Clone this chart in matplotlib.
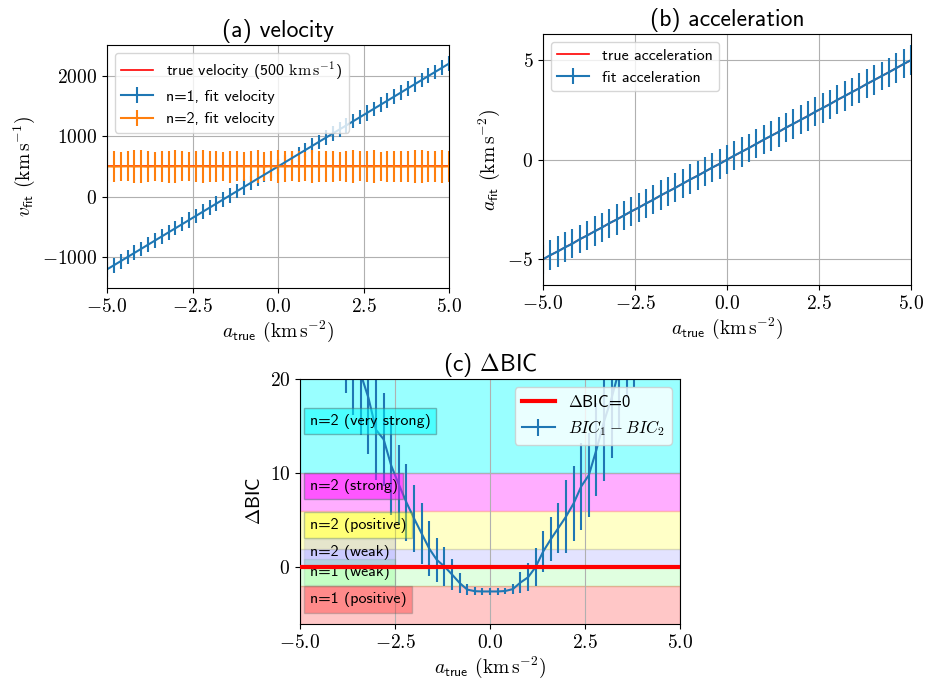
import numpy as np
import matplotlib
matplotlib.use("Agg")
import matplotlib.pyplot as plt
from matplotlib.ticker import FuncFormatter

plt.rcParams['font.family'] = ['cmss10', 'DejaVu Sans']
plt.rcParams['mathtext.fontset'] = 'cm'
plt.rcParams['axes.unicode_minus'] = False

# true accelerations (km s^-2)
a_true = [-5.0, -4.8, -4.6, -4.4, -4.2, -4.0, -3.8, -3.6, -3.4, -3.2, -3.0,
          -2.8, -2.6, -2.4, -2.2, -2.0, -1.8, -1.6, -1.4, -1.2, -1.0,
          -0.8, -0.6, -0.4, -0.2, 0.0, 0.2, 0.4, 0.6, 0.8, 1.0,
          1.2, 1.4, 1.6, 1.8, 2.0, 2.2, 2.4, 2.6, 2.8, 3.0,
          3.2, 3.4, 3.6, 3.8, 4.0, 4.2, 4.4, 4.6, 4.8, 5.0]

v_true = 500

# (a) velocity, n=1 and n=2 fits
v_fit1 = [-1200, -1132, -1064, -996, -928, -860, -792, -724, -656, -588, -520,
          -452, -384, -316, -248, -180, -112, -44, 24, 92, 160,
          228, 296, 364, 432, 500, 568, 636, 704, 772, 840,
          908, 976, 1044, 1112, 1180, 1248, 1316, 1384, 1452, 1520,
          1588, 1656, 1724, 1792, 1860, 1928, 1996, 2064, 2132, 2200]
v_err1 = [125, 120, 125, 120, 125, 120, 125, 120, 120, 125, 120,
          120, 125, 120, 125, 120, 120, 125, 120, 120, 125,
          120, 125, 120, 120, 125, 120, 120, 125, 120, 125,
          120, 120, 125, 120, 125, 120, 120, 125, 120, 125,
          120, 125, 120, 120, 125, 120, 125, 120, 120, 125]
v_fit2 = [502, 498, 500, 503, 499, 501, 497, 502, 500, 498, 501,
          503, 499, 500, 502, 497, 501, 500, 498, 502, 499,
          501, 500, 497, 503, 500, 499, 502, 498, 500, 501,
          499, 502, 500, 497, 501, 500, 503, 498, 500, 502,
          499, 501, 497, 500, 502, 499, 501, 500, 498, 502]
v_err2 = [250, 260, 245, 250, 270, 275, 255, 245, 250, 265, 270,
          250, 245, 260, 270, 255, 250, 245, 265, 250, 240,
          255, 270, 245, 250, 265, 255, 250, 260, 245, 270,
          250, 255, 260, 245, 250, 265, 250, 255, 275, 245,
          250, 260, 255, 250, 270, 265, 250, 255, 270, 260]

# (b) acceleration fit
a_fit = [-5.00, -4.79, -4.61, -4.40, -4.22, -3.99, -3.81, -3.60, -3.41, -3.19, -3.01,
         -2.80, -2.59, -2.41, -2.20, -2.01, -1.79, -1.60, -1.41, -1.20, -0.99,
         -0.81, -0.60, -0.39, -0.21, 0.00, 0.21, 0.40, 0.59, 0.80, 1.01,
         1.20, 1.39, 1.61, 1.80, 2.00, 2.19, 2.41, 2.60, 2.79, 3.01,
         3.20, 3.40, 3.59, 3.81, 4.00, 4.20, 4.39, 4.60, 4.81, 5.00]
a_err = [0.72, 0.75, 0.78, 0.76, 0.74, 0.72, 0.73, 0.75, 0.74, 0.72, 0.76,
         0.74, 0.73, 0.72, 0.75, 0.74, 0.76, 0.73, 0.72, 0.74, 0.75,
         0.73, 0.74, 0.72, 0.76, 0.74, 0.73, 0.75, 0.72, 0.74, 0.73,
         0.76, 0.74, 0.72, 0.75, 0.73, 0.74, 0.72, 0.75, 0.73, 0.74,
         0.76, 0.72, 0.74, 0.73, 0.75, 0.72, 0.74, 0.76, 0.73, 0.74]

# (c) delta BIC
dbic = [46, 42, 38.5, 35, 32, 29,
        26, 23, 20.5, 18, 14.6, 13.6, 10.8, 8.8, 6.9, 5.2, 3.6, 2.0, 0.8, 0.1,
        -0.75, -1.65, -2.35, -2.52, -2.55, -2.55, -2.55, -2.5, -2.3, -1.6, -1.05,
        0.05, 1.7, 3.0, 4.2, 5.4, 6.8, 8.6, 9.8, 12.5, 15.5, 18, 21, 24, 26,
        29, 32, 35, 38.5, 42, 46]
dbic_err = [9, 8.8, 8.5, 8.2, 8, 7.8,
            7.5, 6.8, 6.4, 6.0, 5.35, 4.95, 5.25, 4.15, 4.1, 3.6, 3.25, 2.95, 2.35, 2.05,
            1.65, 1.05, 0.6, 0.4, 0.4, 0.4, 0.4, 0.35, 0.55, 1.1, 1.5,
            2.0, 2.2, 2.3, 2.65, 3.85, 4.0, 4.65, 4.5, 4.95, 6.3, 6.4, 6.2, 6.0, 6.8,
            7, 7.5, 8, 8.3, 8.6, 9]

# evidence bands (low, high, colour, band alpha, label, label y, box alpha)
bandas = [
    (10, 30, 'cyan', 0.4, 'n=2 (very strong)', 15.5, 0.5),
    (6, 10, 'magenta', 0.32, 'n=2 (strong)', 8.6, 0.5),
    (2, 6, 'yellow', 0.22, 'n=2 (positive)', 4.5, 0.4),
    (0, 2, 'blue', 0.11, 'n=2 (weak)', 1.6, 0.1),
    (-2, 0, 'lime', 0.12, 'n=1 (weak)', -0.5, 0.12),
    (-10, -2, 'red', 0.22, 'n=1 (positive)', -3.4, 0.3),
]

xfmt = FuncFormatter(lambda v, p: '$%.1f$' % v)
yfmt = FuncFormatter(lambda v, p: '$%g$' % v)
xlabel = r'$a_{\mathsf{true}}$ $(\mathrm{km\,s^{-2}})$'

fig = plt.figure(figsize=(9.26, 6.8), dpi=100)
ax1 = fig.add_axes([0.1156, 0.5765, 0.3693, 0.3574])
ax2 = fig.add_axes([0.5864, 0.5809, 0.3974, 0.3691])
ax3 = fig.add_axes([0.3240, 0.0824, 0.4104, 0.3603])

# (a)
ax1.plot(a_true, np.full(len(a_true), v_true), color='red', lw=1.2,
         label=r'true velocity (500 $\mathrm{km\,s^{-1}}$)')
ax1.errorbar(a_true, v_fit1, yerr=v_err1, color='C0', label='n=1, fit velocity')
ax1.errorbar(a_true, v_fit2, yerr=v_err2, color='C1', label='n=2, fit velocity')
ax1.set_xlim(-5, 5)
ax1.set_title('(a) velocity', fontsize=17)
ax1.set_ylabel(r'$v_{\mathsf{fit}}$ $(\mathrm{km\,s^{-1}})$', fontsize=14)
ax1.set_xlabel(xlabel, fontsize=14, labelpad=2)
ax1.set_yticks([-1000, 0, 1000, 2000])
ax1.legend(loc='upper left', fontsize=11.5)

# (b)
ax2.plot(a_true, a_true, color='red', lw=1.2, label='true acceleration')
ax2.errorbar(a_true, a_fit, yerr=a_err, color='C0', label='fit acceleration')
ax2.set_xlim(-5, 5)
ax2.set_title('(b) acceleration', fontsize=17)
ax2.set_ylabel(r'$a_{\mathsf{fit}}$ $(\mathrm{km\,s^{-2}})$', fontsize=14)
ax2.set_xlabel(xlabel, fontsize=14, labelpad=2)
ax2.set_yticks([-5, 0, 5])
ax2.legend(loc='upper left', fontsize=11.5)

# (c)
for lo, hi, col, al, txt, ty, bal in bandas:
    ax3.axhspan(lo, hi, color=col, alpha=al)
    ax3.text(-4.75, ty, txt, fontsize=11.5, va='center',
             bbox=dict(facecolor=col, alpha=bal, edgecolor='#507070', pad=4))
ax3.axhline(0, color='red', lw=3, label=r'$\Delta$BIC=0', zorder=4)
ax3.errorbar(a_true, dbic, yerr=dbic_err, color='C0', label=r'$BIC_1-BIC_2$')
ax3.set_xlim(-5, 5)
ax3.set_ylim(-6, 20)
ax3.set_yticks([0, 10, 20])
ax3.set_title(r'(c) $\Delta$BIC', fontsize=17)
ax3.set_ylabel(r'$\Delta$BIC', fontsize=14)
ax3.set_xlabel(xlabel, fontsize=14, labelpad=2)
ax3.legend(loc='upper right', fontsize=12)

for ax in (ax1, ax2, ax3):
    ax.grid(True)
    ax.set_xticks([-5, -2.5, 0, 2.5, 5])
    ax.xaxis.set_major_formatter(xfmt)
    ax.yaxis.set_major_formatter(yfmt)
    ax.tick_params(labelsize=14)

fig.savefig('out.png', dpi=100)
